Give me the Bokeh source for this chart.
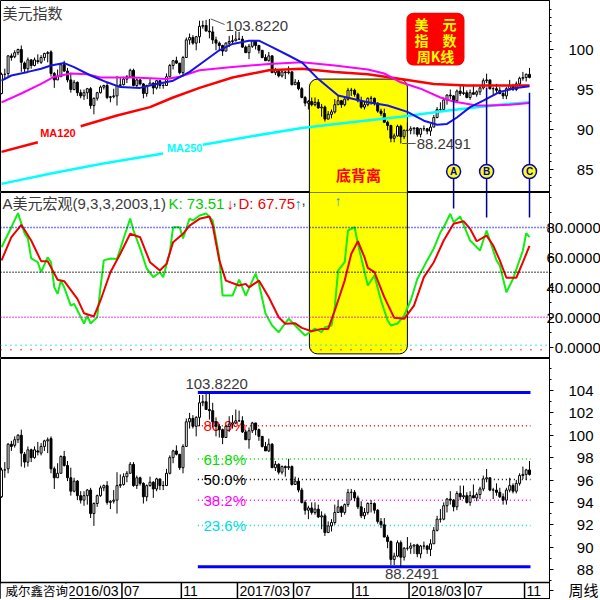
import numpy as np
import pandas as pd
from bokeh.plotting import figure
from bokeh.layouts import column
from bokeh.models import Range1d, ColumnDataSource, Label, FixedTicker, Span
from bokeh.core.properties import value
from bokeh.embed import file_html
from bokeh.resources import INLINE

nan = float("nan")

# ---------------- data: US dollar index, weekly bars ----------------
FIRST_WEEK = "2015-10-19"

opens = [
    94.5, 96.9, 97.0, 99.2, 99.1, 99.6, 100.0, 98.3, 97.6, 98.7,
    98.0, 98.6, 98.4, 99.0, 99.5, 99.7, 97.0, 96.2, 96.6, 98.1,
    97.3, 96.2, 95.0, 95.9, 94.6, 94.2, 94.6, 95.1, 93.0, 93.9,
    94.6, 95.3, 95.5, 94.0, 94.1, 94.2, 95.5, 95.6, 96.3, 96.6,
    97.4, 95.5, 96.2, 95.7, 94.5, 95.5, 95.8, 95.2, 96.1, 95.5,
    95.5, 96.6, 98.0, 98.6, 98.3, 97.1, 99.0, 101.2, 101.5, 100.8,
    101.6, 102.9, 103.0, 102.3, 102.2, 101.2, 100.8, 100.5, 99.8, 100.8,
    101.0, 101.1, 101.3, 101.3, 100.3, 99.6, 100.4, 101.1, 100.5, 99.9,
    99.0, 98.6, 99.2, 97.1, 97.4, 96.7, 97.2, 97.1, 97.2, 95.6,
    95.9, 95.1, 94.0, 93.3, 93.5, 93.1, 93.4, 92.7, 92.8, 91.3,
    91.9, 92.2, 93.1, 93.6, 93.1, 93.8, 94.9, 94.9, 94.4, 93.6,
    92.8, 93.1, 93.9, 93.9, 93.3, 92.3, 92.0, 90.9, 90.5, 88.9,
    89.2, 90.4, 89.1, 89.9, 89.9, 90.1, 90.2, 89.4, 90.1, 90.1,
    89.8, 90.3, 91.5, 92.5, 92.5, 93.7, 94.3, 94.2, 93.6, 94.8,
    94.5, 94.6, 94.0, 94.6, 94.4, 94.7, 95.2, 96.1, 96.2, 95.1,
    95.1, 94.9, 94.5, 94.2, 95.1, 95.5, 95.0, 95.7, 96.4, 96.5,
    96.9,
]
highs = [
    97.1, 97.6, 99.3, 99.5, 99.9, 100.1, 100.5, 98.5, 99.0, 98.8,
    99.0, 99.4, 99.3, 99.6, 99.8, 99.9, 97.2, 97.5, 98.2, 98.6,
    97.7, 97.1, 96.2, 96.0, 95.0, 95.0, 95.2, 95.3, 94.0, 94.7,
    95.5, 95.6, 95.9, 94.2, 95.1, 96.7, 96.5, 96.6, 96.8, 97.6,
    97.6, 96.4, 96.3, 95.8, 95.6, 96.3, 95.9, 96.2, 96.1, 95.9,
    97.0, 98.2, 98.7, 99.1, 98.3, 99.2, 101.5, 102.0, 101.8, 101.7,
    103.6, 103.6, 103.7, 103.822, 102.9, 101.6, 101.0, 100.6, 100.9, 101.7,
    101.8, 102.3, 102.2, 101.7, 100.5, 100.7, 101.2, 101.1, 100.6, 99.9,
    99.4, 99.7, 99.3, 97.7, 97.5, 97.3, 97.3, 97.9, 97.3, 96.3,
    96.2, 95.3, 94.2, 93.7, 94.0, 94.0, 93.8, 93.2, 93.0, 92.3,
    92.5, 93.8, 94.2, 93.7, 93.9, 95.2, 95.2, 95.1, 94.6, 94.1,
    93.5, 94.0, 94.2, 94.0, 93.4, 92.6, 92.6, 91.1, 90.6, 89.5,
    90.6, 90.6, 90.0, 90.9, 90.4, 90.2, 90.3, 90.2, 90.5, 90.2,
    90.7, 91.8, 92.8, 93.4, 94.0, 94.4, 95.0, 94.3, 95.0, 95.5,
    95.5, 94.9, 95.0, 95.6, 94.9, 95.4, 96.4, 96.98, 96.2, 95.3,
    95.7, 95.3, 94.8, 95.3, 96.2, 95.7, 96.0, 96.6, 97.2, 97.0,
    97.7,
]
lows = [
    94.4, 96.2, 96.6, 98.6, 98.9, 99.3, 97.2, 97.1, 97.2, 97.6,
    97.9, 98.2, 98.2, 98.6, 98.4, 96.6, 95.2, 96.2, 96.6, 97.2,
    95.9, 94.6, 94.9, 94.2, 93.9, 93.7, 93.8, 92.6, 91.9, 93.6,
    94.5, 95.0, 93.8, 93.4, 93.9, 93.0, 95.3, 95.5, 95.8, 96.6,
    95.4, 95.2, 95.5, 93.9, 94.1, 95.4, 94.4, 95.0, 95.1, 95.1,
    95.5, 96.5, 97.5, 98.2, 96.9, 96.6, 99.0, 100.6, 100.6, 99.9,
    100.8, 102.6, 102.3, 101.4, 100.7, 99.9, 99.8, 99.2, 99.8, 100.3,
    100.6, 101.0, 101.2, 100.2, 99.6, 98.8, 100.2, 100.0, 99.5, 98.9,
    98.6, 98.5, 97.1, 96.8, 96.5, 96.5, 96.3, 96.9, 95.5, 95.6,
    94.9, 93.9, 92.9, 92.5, 92.9, 92.9, 92.6, 91.6, 91.0, 91.3,
    91.4, 92.0, 93.1, 92.7, 92.9, 93.6, 94.2, 94.1, 93.4, 92.6,
    92.5, 92.9, 93.1, 93.0, 92.1, 91.7, 90.9, 89.9, 88.4, 88.4,
    89.1, 88.2491, 88.8, 89.7, 89.4, 89.4, 89.1, 89.0, 89.8, 89.4,
    89.2, 90.3, 91.4, 92.2, 92.4, 93.1, 93.8, 93.2, 93.3, 94.2,
    94.3, 93.9, 93.7, 94.4, 94.1, 94.3, 95.0, 95.8, 95.0, 94.3,
    94.6, 94.4, 93.8, 93.8, 94.9, 94.8, 94.8, 95.5, 96.1, 96.0,
    96.4,
]
closes = [
    96.9, 96.9, 99.2, 99.0, 99.6, 100.0, 98.4, 97.6, 98.7, 98.0,
    98.7, 98.5, 99.0, 99.5, 99.6, 97.0, 96.2, 96.6, 98.1, 97.3,
    96.2, 95.0, 95.9, 94.6, 94.2, 94.6, 95.1, 93.0, 93.9, 94.6,
    95.3, 95.5, 94.0, 94.1, 94.2, 95.5, 95.6, 96.3, 96.6, 97.4,
    95.5, 96.2, 95.7, 94.5, 95.5, 95.8, 95.2, 96.1, 95.5, 95.5,
    96.6, 98.0, 98.6, 98.3, 97.1, 99.0, 101.2, 101.5, 100.8, 101.6,
    102.9, 103.0, 102.3, 102.2, 101.2, 100.8, 100.5, 99.8, 100.8, 101.0,
    101.1, 101.3, 101.3, 100.3, 99.6, 100.4, 101.1, 100.5, 99.9, 99.0,
    98.6, 99.2, 97.1, 97.4, 96.7, 97.2, 97.1, 97.2, 95.6, 95.9,
    95.1, 94.0, 93.3, 93.5, 93.1, 93.4, 92.7, 92.8, 91.3, 91.9,
    92.2, 93.1, 93.6, 93.1, 93.8, 94.9, 94.9, 94.4, 93.6, 92.8,
    93.1, 93.9, 93.9, 93.3, 92.3, 92.0, 90.9, 90.5, 88.9, 89.2,
    90.4, 89.1, 89.9, 89.9, 90.1, 90.2, 89.4, 90.1, 90.1, 89.8,
    90.3, 91.5, 92.5, 92.5, 93.7, 94.3, 94.2, 93.6, 94.8, 94.5,
    94.6, 94.0, 94.6, 94.4, 94.7, 95.2, 96.1, 96.2, 95.1, 95.1,
    94.9, 94.5, 94.2, 95.1, 95.5, 95.0, 95.7, 96.4, 96.5, 96.9,
    96.5,
]

# moving averages (bar number -> value)
ma_fast_week = [0, 3, 8, 12, 15, 19, 22, 27, 32, 36, 42, 47, 52, 57, 61, 66, 70, 75, 78, 82,
                87, 91, 96, 102, 111, 117, 123, 128, 132, 135, 138, 142, 146, 151, 156, 160]
ma_fast = [96.1, 96.75, 97.2, 97.6, 98.0, 98.3, 97.8, 96.75, 95.9, 95.3, 95.2, 95.7, 96.1, 97.2,
           98.4, 99.9, 100.7, 101.1, 101.1, 100.3, 99.25, 98.4, 96.3, 94.25, 93.4, 93.0, 92.2,
           91.1, 90.6, 90.7, 91.5, 92.8, 93.6, 94.7, 95.2, 95.4]
ma_slow_week = [0, 6, 12, 16, 21, 26, 30, 40, 50, 54, 60, 70, 81, 91, 101, 111, 116, 121, 127,
                133, 137, 144, 148, 154, 160]
ma_slow = [93.4, 94.5, 95.7, 96.6, 97.0, 96.9, 96.5, 96.5, 96.3, 96.6, 97.4, 97.8, 98.2, 98.4,
           98.0, 97.5, 97.0, 95.9, 95.1, 94.0, 93.5, 93.0, 93.0, 93.1, 93.3]
ma120_week = [0, 11, 12, 24, 35, 45, 52, 60, 70, 81, 91, 101, 111, 121, 131, 141, 151, 160]
ma120 = [87.2, 88.4, nan, 90.4, 91.75, 92.8, 94.0, 95.2, 96.5, 97.4, 97.6, 97.2, 96.9, 96.3,
         95.7, 95.5, 95.5, 95.5]
ma250_week = [0, 15, 30, 49, 50, 61, 75, 91, 106, 121, 136, 151, 160]
ma250 = [83.2, 84.5, 85.7, 87.0, nan, 88.1, 89.1, 90.2, 90.9, 91.6, 92.4, 93.1, 93.4]

# indicator "A美元宏观(9,3,3,2003,1)": K and D lines (bar number -> value)
k_week = [0, 3, 5, 7, 8, 9, 11, 12, 14, 15, 16, 17, 18, 19, 21, 22, 25, 26, 27, 29,
          30, 31, 33, 35, 37, 39, 40, 42, 44, 46, 48, 49, 51, 52, 54, 55, 57, 58, 60, 62,
          64, 66, 67, 70, 72, 74, 77, 78, 80, 82, 84, 87, 89, 91, 92, 95, 97, 98, 100, 101,
          102, 104, 105, 107, 108, 111, 113, 115, 117, 118, 120, 122, 124, 126, 129, 131, 133, 134, 136, 137,
          139, 142, 145, 147, 150, 151, 153, 155, 158, 159, 160]
k_line = [66.8, 80.2, 89.6, 76, 72.6, 59.3, 56.8, 50.1, 60.1, 56.8, 40, 35.6, 44.5, 40, 27.8, 29, 15.8, 21.1, 15.8, 20,
          40, 58, 59.3, 59, 72.6, 86, 78, 66, 52.6, 46.8, 50.1, 46.8, 63.5, 80.2, 80.2, 72.6, 86, 84.7, 88, 89.4,
          84.7, 60.1, 34.5, 34.5, 45.2, 34.5, 49.2, 42.5, 22.5, 14.5, 10, 19, 14.5, 10, 7.8, 12.4, 10, 13.3, 14.5, 26.7,
          51.2, 56.8, 78, 80.2, 69.1, 41.2, 47.9, 31.2, 17.8, 14.5, 15.8, 21.1, 31.2, 45.6, 58, 66, 76.8, 80.2, 89.2, 83.5,
          87.4, 71.3, 64.6, 78, 58, 54.6, 36.7, 45.6, 64.6, 76.2, 73.51]
d_week = [0, 3, 6, 9, 12, 14, 17, 19, 23, 25, 28, 30, 33, 36, 39, 42, 45, 48, 50, 52,
          55, 57, 60, 63, 64, 66, 68, 72, 74, 75, 78, 81, 84, 86, 89, 91, 94, 97, 99, 101,
          104, 106, 108, 110, 111, 113, 116, 119, 122, 125, 128, 131, 134, 137, 140, 142, 144, 147, 149, 151,
          153, 156, 158, 160]
d_line = [58, 73.5, 81.8, 71.3, 57.5, 57.5, 45, 44.1, 32.3, 22.7, 20.5, 31.2, 50.1, 62.4, 75.8, 73.5, 56.8, 51.2, 55.7, 70.2,
          75.8, 81.3, 85.8, 87.4, 81.3, 58, 44.5, 41.2, 42.3, 40, 44.5, 33.4, 20, 15.6, 16, 12.9, 10.6, 12.2, 12.2, 24.5,
          44.5, 62.4, 70.8, 60.1, 53, 50.1, 33.4, 19.6, 18.9, 27.8, 46.8, 56.8, 71.3, 82.5, 84.2, 79.1, 70.8, 74.6, 68, 58,
          46.4, 46.4, 56.8, 67.75]

month_ticks = ["2016-03", "2016-07", "2016-11", "2017-03", "2017-07", "2017-11",
               "2018-03", "2018-07", "2018-11"]
month_labels = ["2016/03", "07", "11", "2017/03", "07", "11", "2018/03", "07", "11"]

price_ticks = [85, 90, 95, 100]
kd_ticks = [0, 20, 40, 60, 80]
fib_price_ticks = [88, 90, 92, 94, 96, 98, 100, 102, 104]

fib_ratios = [0.809, 0.618, 0.5, 0.382, 0.236]
fib_colors = ["#FF0000", "#00DD00", "#000000", "#FF00FF", "#00DDDD"]

signal_names = ["A", "B", "C"]
signal_week = [137, 147, 160]
signal_from_price = [93.6, 95.25, 94.6]
signal_kd_end = [92.7, 86.7, 86.7]
signal_marker_price = 84.75

zone_week = [93.3, 123.0]          # 底背离 zone
zone_top_price = 96.3
zone_bottom_kd = -4.5

# ---------------- layout ----------------
W = 549
H_TOP, H_MID, H_BOT = 192, 166, 241     # bottom includes the 17px date row
ROW_TOP = 86.84                         # price level where the date row starts
ROW_MID = ROW_TOP - 0.76
FONT = "Liberation Sans"
CJK = "Noto Sans CJK SC"
MIX = "Liberation Sans, Noto Sans CJK SC"
GRAY = "#3a3a3a"
FSP = "\u2007"

N = len(closes)
week = np.arange(N)
dates = pd.date_range(FIRST_WEEK, periods=N, freq="7D")
ym = np.array(dates.strftime("%Y-%m"))
tick_pos = [float(np.nonzero(ym == m)[0][0]) - 0.5 for m in month_ticks]
NT = len(tick_pos)

o = np.array(opens); c = np.array(closes)
src = ColumnDataSource(dict(
    x=week, h=highs, l=lows,
    top=np.maximum(o, c), bottom=np.minimum(o, c),
    fill=np.where(c >= o, "white", "black"),
))

x_range = Range1d(-0.303, 166.06)


def make_fig(h, y_range, ticks, minor, overrides, standoff):
    p = figure(frame_width=W, frame_height=h, x_range=x_range, y_range=y_range,
               output_backend="svg", toolbar_location=None,
               x_axis_location=None, y_axis_location="right",
               min_border_left=0, min_border_right=0, min_border_top=0, min_border_bottom=0)
    p.grid.visible = False
    p.outline_line_color = "black"
    p.outline_line_width = 1
    p.background_fill_color = "white"
    p.border_fill_color = "white"
    ax = p.yaxis[0]
    ax.ticker = FixedTicker(ticks=ticks, minor_ticks=minor)
    ax.major_label_overrides = overrides
    ax.axis_line_color = "black"
    ax.major_tick_in = 0
    ax.major_tick_out = 4
    ax.minor_tick_in = 0
    ax.minor_tick_out = 2
    ax.major_tick_line_color = "black"
    ax.minor_tick_line_color = "black"
    ax.major_label_text_font = MIX
    ax.major_label_text_font_size = "15px"
    ax.major_label_text_color = "black"
    ax.major_label_standoff = standoff
    return p


def candles(p):
    p.segment("x", "h", "x", "l", source=src, line_color="black", line_width=1)
    p.vbar(x="x", width=0.6, top="top", bottom="bottom", source=src,
           fill_color="fill", line_color="black", line_width=1)


hi = max(highs); lo = min(lows)
hi_week = int(np.argmax(highs)); lo_week = int(np.argmin(lows))

# ---------------- top panel: price with moving averages ----------------
p1 = make_fig(H_TOP, Range1d(82.125, 106.125), price_ticks, list(range(83, 106)),
              {t: f"{t:>3d}".replace(" ", FSP) for t in price_ticks}, 15)

p1.quad(left=[zone_week[0]], right=[zone_week[1]], top=[zone_top_price], bottom=[60],
        fill_color="#FFFF00", line_color="black", line_width=1, border_radius=8)

# legend box
p1.quad(left=[122.7], right=[140.3], top=[104.6], bottom=[98.0], fill_color="#FF0000",
        line_color=None, border_radius=7)
p1.text(x=[131.5] * 3, y=[103.2, 101.25, 99.25], text=["美\u3000元", "指\u3000数", "周K线"],
        text_color="#FFFF00", text_font=value(CJK), text_font_size="14px", text_font_style="bold",
        text_align="center", text_baseline="middle")

candles(p1)

p1.line(ma250_week, ma250, line_color="#00FFFF", line_width=2.5)
p1.line(ma120_week, ma120, line_color="#FF0000", line_width=2.5)
p1.line(ma_slow_week, ma_slow, line_color="#FF00FF", line_width=2)
p1.line(ma_fast_week, ma_fast, line_color="#1414E6", line_width=2)
p1.text(x=[17.1], y=[89.55], text=["MA120"], text_color="#FF0000", text_font=value(FONT),
        text_font_size="11px", text_font_style="bold", text_align="center", text_baseline="middle")
p1.text(x=[55.5], y=[87.65], text=["MA250"], text_color="#00FFFF", text_font=value(FONT),
        text_font_size="11px", text_font_style="bold", text_align="center", text_baseline="middle")

# A/B/C signal markers
p1.segment(x0=signal_week, y0=signal_from_price, x1=signal_week, y1=[60] * 3,
           line_color="#000090", line_width=1.5)
p1.scatter(signal_week, [signal_marker_price] * 3, size=14, marker="circle",
           fill_color="#FFFF00", line_color="#0000CC", line_width=1.5)
p1.text(x=signal_week, y=[signal_marker_price] * 3, text=signal_names, text_color="#0000CC",
        text_font=value(FONT), text_font_size="10px", text_font_style="bold",
        text_align="center", text_baseline="middle")

# extreme annotations
p1.segment(x0=[hi_week + 0.4], y0=[hi], x1=[hi_week + 4.6], y1=[hi - 0.7],
           line_color="#555555", line_width=1)
p1.text(x=[hi_week + 4.9], y=[hi - 0.9], text=[f"{hi:.4f}"], text_color=GRAY,
        text_font=value(FONT), text_font_size="15px", text_baseline="middle")
p1.segment(x0=[lo_week + 0.4], y0=[lo], x1=[lo_week + 4.5], y1=[lo],
           line_color="#555555", line_width=1)
p1.text(x=[lo_week + 4.8], y=[lo], text=[f"{lo:.4f}"], text_color=GRAY,
        text_font=value(FONT), text_font_size="15px", text_baseline="middle")

p1.text(x=[(zone_week[0] + zone_week[1]) / 2], y=[84.4], text=["底背离"], text_color="#FF0000",
        text_font=value(CJK), text_font_size="15px", text_font_style="bold",
        text_align="center", text_baseline="middle")

p1.add_layout(Label(x=2, y=H_TOP - 1, x_units="screen", y_units="screen", text="美元指数",
                    text_font=CJK, text_font_size="15px", text_color=GRAY, text_baseline="top"))

# ---------------- middle panel: K / D indicator ----------------
p2 = make_fig(H_MID, Range1d(-7.6, 103.4), kd_ticks, list(range(0, 101, 10)),
              {t: f"{t:.4f}".rjust(7, FSP) for t in kd_ticks}, -7)

p2.quad(left=[zone_week[0]], right=[zone_week[1]], top=[150], bottom=[zone_bottom_kd],
        fill_color="#FFFF00", line_color="black", line_width=1, border_radius=8)

for loc, col in [(80, "#0000CC"), (50, "#000000"), (20, "#DD00DD")]:
    p2.add_layout(Span(location=loc, dimension="width", line_color=col,
                       line_dash="1 2", line_width=1.5))
p2.add_layout(Span(location=1.2, dimension="width", line_color="#00DDDD",
                   line_dash="1 4", line_width=1.5))
p2.add_layout(Span(location=-1.8, dimension="width", line_color="#FF0000",
                   line_dash="1 9", line_width=1.5))

p2.line(k_week, k_line, line_color="#11EE11", line_width=2)
p2.line(d_week, d_line, line_color="#EE0000", line_width=2)

p2.segment(x0=signal_week, y0=[120] * 3, x1=signal_week, y1=signal_kd_end,
           line_color="#000090", line_width=1.5)
p2.text(x=[102], y=[98], text=["↑"], text_color="#3399CC", text_font=value(MIX),
        text_font_size="14px", text_align="center", text_baseline="middle")

title_parts = [
    (2, "A美元宏观(9,3,3,2003,1)", GRAY),
    (168, f"K: {k_line[-1]:.2f}", "#00CC00"),
    (226, "↓", "#EE0000"),
    (232, ",", GRAY),
    (238, f"D: {d_line[-1]:.2f}", "#EE0000"),
    (294, "↑", "#3399CC"),
    (301, ",", GRAY),
]
for xs, txt, col in title_parts:
    p2.add_layout(Label(x=xs, y=H_MID - 2, x_units="screen", y_units="screen", text=txt,
                        text_font=MIX, text_font_size="15px", text_color=col,
                        text_baseline="top"))

# ---------------- bottom panel: Fibonacci retracement + date row ----------------
p3 = make_fig(H_BOT, Range1d(85.32, 106.86), fib_price_ticks + [ROW_MID],
              list(range(87, 107)),
              {**{t: f"{t:>3d}".replace(" ", FSP) for t in fib_price_ticks},
               ROW_MID: "周线"}, 15)

fib_x0 = hi_week - 3.5
fib_x1 = N - 1 + 0.3
fib_levels = [lo + r * (hi - lo) for r in fib_ratios]
p3.segment(x0=[fib_x0] * len(fib_levels), y0=fib_levels, x1=[fib_x1] * len(fib_levels),
           y1=fib_levels, line_color=fib_colors, line_dash="1 3", line_width=1.5)
p3.text(x=[fib_x0 + 1.7] * len(fib_levels), y=fib_levels,
        text=[f"{r * 100:.1f}%" for r in fib_ratios], text_color=fib_colors,
        text_font=value(FONT), text_font_size="15px", text_baseline="middle")
p3.segment(x0=[fib_x0, fib_x0], y0=[hi, lo], x1=[fib_x1, fib_x1], y1=[hi, lo],
           line_color="#0000FF", line_width=3)

candles(p3)

p3.text(x=[hi_week + 2.2], y=[hi], y_offset=-3, text=[f"{hi:.4f}"], text_color=GRAY,
        text_font=value(FONT), text_font_size="15px", text_align="center", text_baseline="bottom")
p3.text(x=[lo_week + 3.4], y=[lo], y_offset=2, text=[f"{lo:.4f}"], text_color=GRAY,
        text_font=value(FONT), text_font_size="15px", text_align="center", text_baseline="top")

# date row
p3.add_layout(Span(location=ROW_TOP, dimension="width", line_color="black", line_width=1.5))
p3.segment(x0=tick_pos, y0=[ROW_TOP] * NT, x1=tick_pos, y1=[80] * NT,
           line_color="black", line_width=1.5)
p3.text(x=tick_pos, y=[ROW_MID] * NT, text=month_labels, x_offset=2,
        text_font=value(FONT), text_font_size="14px", text_color="black",
        text_align="left", text_baseline="middle")
p3.quad(left=[x_range.start], right=[tick_pos[0] + 1.1], top=[ROW_TOP - 0.08], bottom=[80],
        fill_color="white", line_color=None)
p3.text(x=[x_range.start], y=[ROW_MID], text=["威尔鑫咨询"], x_offset=5,
        text_font=value(CJK), text_font_size="12.5px", text_color="black",
        text_align="left", text_baseline="middle")

layout = column(p1, p2, p3, spacing=0)
open("out.html", "w").write(file_html(layout, INLINE))
